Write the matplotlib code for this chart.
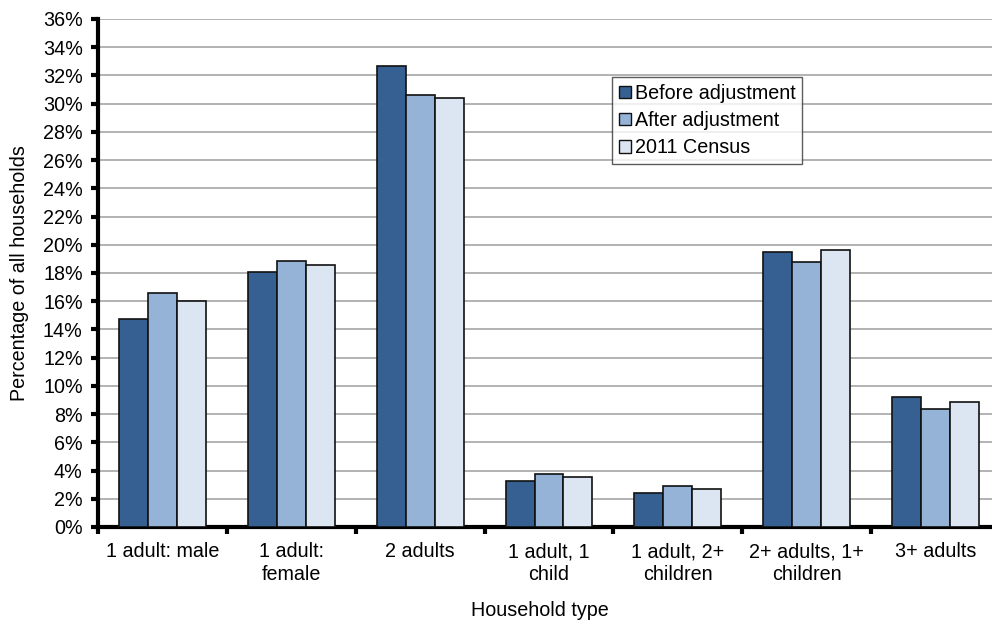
import matplotlib
matplotlib.use("Agg")
import matplotlib.pyplot as plt
import numpy as np

categories = ["1 adult: male", "1 adult:\nfemale", "2 adults", "1 adult, 1\nchild",
              "1 adult, 2+\nchildren", "2+ adults, 1+\nchildren", "3+ adults"]
before = [14.72, 18.1, 32.69, 3.28, 2.43, 19.51, 9.23]
after = [16.58, 18.85, 30.59, 3.76, 2.88, 18.76, 8.38]
census = [16.04, 18.6, 30.40, 3.57, 2.71, 19.65, 8.86]
series_names = ["Before adjustment", "After adjustment", "2011 Census"]
colors = ["#376092", "#95B3D7", "#DCE6F2"]
yticks = list(range(0, 37, 2))

FS = 14.2
plt.rcParams['font.family'] = ['Liberation Sans', 'DejaVu Sans']
fig = plt.figure(figsize=(9.92, 6.21), dpi=100)
ax = fig.add_axes([98/992, 1 - 527/621, (1000 - 98)/992, (527 - 19)/621])

x = np.arange(len(categories))
w = 0.225
for i, (vals, name, c) in enumerate(zip([before, after, census], series_names, colors)):
    ax.bar(x + (i - 1) * w, vals, width=w, color=c, edgecolor="#111111",
           linewidth=1.2, label=name, zorder=3)

ax.set_xlim(-0.5, len(categories) - 0.5)
ax.set_ylim(0, 36)
ax.set_yticks(yticks)
ax.set_yticklabels([f"{t}%" for t in yticks], fontsize=FS)
ax.yaxis.grid(True, color="#A6A6A6", linewidth=1.2, zorder=0)
ax.set_axisbelow(True)

ax.set_xticks(x)
ax.set_xticklabels(categories, fontsize=FS, linespacing=1.25)
ax.tick_params(axis="x", length=0, pad=11)
ax.set_xticks(np.arange(-0.5, len(categories) + 0.5, 1), minor=True)
ax.tick_params(axis="x", which="minor", length=5, width=3, direction="out")
ax.tick_params(axis="y", length=5, width=3, direction="out", pad=6)

for s in ["top", "right"]:
    ax.spines[s].set_visible(False)
for s in ["left", "bottom"]:
    ax.spines[s].set_linewidth(3)

ax.set_ylabel("Percentage of all households", fontsize=FS)
ax.yaxis.set_label_coords(-(98 - 20) / (1000 - 98), 0.5)
ax.yaxis.label.set_va("center")
ax.set_xlabel("Household type", fontsize=FS)
ax.xaxis.set_label_coords((540 - 98) / (1000 - 98), -(611 - 527) / (527 - 19))
ax.xaxis.label.set_va("center")

leg = ax.legend(loc="upper left", bbox_to_anchor=((612 - 98) / (1000 - 98), (527 - 77) / (527 - 19)),
                fontsize=FS, frameon=True, fancybox=False, edgecolor="#333333",
                handlelength=0.6, handleheight=0.6, handletextpad=0.2,
                borderpad=0.35, labelspacing=0.42, borderaxespad=0)
leg.get_frame().set_linewidth(1.0)
for h in leg.legend_handles:
    h.set_edgecolor("#111111")
    h.set_linewidth(1.0)

fig.savefig("out.png", dpi=100)
